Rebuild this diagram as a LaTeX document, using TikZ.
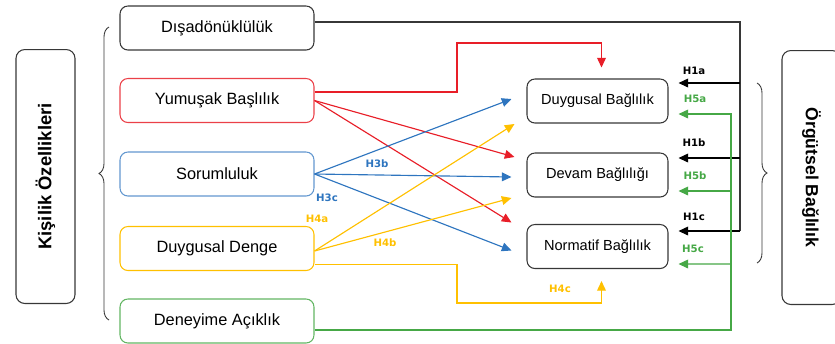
\documentclass[tikz,border=0pt]{standalone}
\usepackage{fontspec}
\setmainfont{Liberation Sans}
\newfontfamily\hfont{DejaVu Sans}
\usetikzlibrary{arrows.meta,positioning,calc,decorations.pathreplacing}
\definecolor{kred}{RGB}{232,30,40}
\definecolor{kblue}{RGB}{46,117,191}
\definecolor{kyel}{RGB}{255,192,0}
\definecolor{kgreen}{RGB}{70,168,70}
\definecolor{kgray}{RGB}{55,55,55}
\tikzset{
  trait/.style={draw=#1,line width=0.6pt,rounded corners=4.5pt,minimum width=3.88cm,minimum height=0.88cm,font=\fontsize{9.3}{11}\selectfont},
  commit/.style={draw=kgray,line width=0.6pt,rounded corners=4.5pt,minimum width=2.82cm,minimum height=0.88cm,font=\fontsize{8.3}{10}\selectfont},
  sidebox/.style={draw=kgray,line width=0.6pt,rounded corners=5pt,minimum width=1.18cm,minimum height=5.08cm},
  hyp/.style={text=#1,inner sep=0pt,font=\hfont\bfseries\fontsize{5.8}{6}\selectfont},
  link/.style={draw=#1,line width=0.65pt,-{Triangle[length=5.5pt,width=5pt]}},
  bus/.style={draw=#1,line width=0.65pt},
  curly/.style={draw=kgray,line width=0.5pt,decorate,decoration={brace,amplitude=0.2cm}}
}
\begin{document}
\begin{tikzpicture}[x=0.02cm,y=-0.02cm]
\useasboundingbox (0,0) rectangle (835,343);
% kisilik ozellikleri
\node[sidebox] (kis) at (45.5,176.5) {};
\node[rotate=90,font=\bfseries\fontsize{10.5}{12}\selectfont] (kist) at (kis) {Kişilik Özellikleri};
\draw[curly] (109,320) -- (109,27);
\node[trait=kgray] (ext) at (217,28) {Dışadönüklülük};
\node[trait=kred!85] (agr) at (217,100.5) {Yumuşak Başlılık};
\node[trait=kblue!75] (con) at (217,174) {Sorumluluk};
\node[trait=kyel] (emo) at (217,248.5) {Duygusal Denge};
\node[trait=kgreen!85] (ope) at (217,321) {Deneyime Açıklık};
% orgutsel baglilik
\node[commit] (db) at (597.5,101) {Duygusal Bağlılık};
\node[commit] (dv) at (597.5,175) {Devam Bağlılığı};
\node[commit] (nb) at (597.5,246.5) {Normatif Bağlılık};
\draw[curly] (757,83) -- (757,263);
\node[sidebox] (org) at (811.5,177.5) {};
\node[rotate=-90,font=\bfseries\fontsize{10}{12}\selectfont] (orgt) at (org) {Örgütsel Bağlılık};
% H1
\coordinate (kbus) at (740,0);
\draw[bus=kgray] ($(ext.east)+(0,-6)$) -| (kbus |- 0,231);
\draw[link=black] (kbus |- 0,231) -- ($(nb.east)+(10,-15.5)$);
\draw[link=black] (kbus |- 0,83) -- ($(db.east)+(10,-18)$);
\draw[link=black] (kbus |- 0,158) -- ($(dv.east)+(10,-17)$);
% H5
\coordinate (gbus) at (731,0);
\draw[link=kgreen] ($(ope.east)+(0,9)$) -| (gbus |- 0,114) -- ($(db.east)+(10,13)$);
\draw[link=kgreen] (gbus |- 0,191) -- ($(dv.east)+(10,16)$);
\draw[link=kgreen] (gbus |- 0,264) -- ($(nb.east)+(10,17.5)$);
% H2
\draw[link=kred] ($(agr.east)+(0,-8.5)$) -| (457,43) -| ($(db.north)+(4,-11)$);
\draw[link=kred] (agr.east) -- ($(dv.west)+(-12,-18)$);
\draw[link=kred] (agr.east) -- ($(nb.west)+(-15,-24)$);
% H3
\draw[link=kblue] (con.east) -- ($(db.west)+(-15,-2)$);
\draw[link=kblue] (con.east) -- ($(dv.west)+(-15,2)$);
\draw[link=kblue] (con.east) -- ($(nb.west)+(-15,4)$);
% H4
\draw[link=kyel] ($(emo.east)+(0,2.5)$) -- ($(db.west)+(-12,23)$);
\draw[link=kyel] ($(emo.east)+(0,2.5)$) -- ($(dv.west)+(-15,23)$);
\draw[link=kyel] ($(emo.east)+(0,16)$) -| (457,303) -| ($(nb.south)+(4,12)$);
% etiketler
\node[hyp=black] (h1a) at (694,71) {H1a};
\node[hyp=kgreen] (h5a) at (695,99) {H5a};
\node[hyp=black] (h1b) at (694,143) {H1b};
\node[hyp=kgreen] (h5b) at (695,176) {H5b};
\node[hyp=black] (h1c) at (694,217) {H1c};
\node[hyp=kgreen] (h5c) at (693,249) {H5c};
\node[hyp=kblue] (h3b) at (377,164) {H3b};
\node[hyp=kblue] (h3c) at (327,198) {H3c};
\node[hyp=kyel] (h4a) at (317,219) {H4a};
\node[hyp=kyel] (h4b) at (385,243) {H4b};
\node[hyp=kyel] (h4c) at (560,289) {H4c};
\end{tikzpicture}
\end{document}
